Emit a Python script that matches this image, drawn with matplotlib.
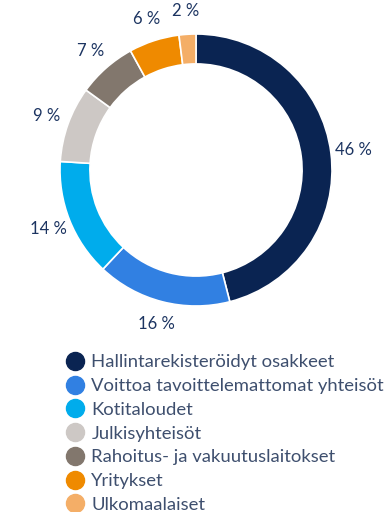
import matplotlib.pyplot as plt
from matplotlib.lines import Line2D

plt.rcParams['font.family'] = ['Lato', 'DejaVu Sans']

# ownership groups and their shares (%)
groups = ['Hallintarekisteröidyt osakkeet', 'Voittoa tavoittelemattomat yhteisöt',
          'Kotitaloudet', 'Julkisyhteisöt', 'Rahoitus- ja vakuutuslaitokset',
          'Yritykset', 'Ulkomaalaiset']
shares = [46, 16, 14, 9, 7, 6, 2]
colors = ['#0a2452', '#3180e2', '#00acec', '#cdc8c5', '#82776d', '#ef8a00', '#f4ae67']

W, H = 388, 512
fig = plt.figure(figsize=(W / 100, H / 100), dpi=100)

# donut: centre (196, 170) px, outer radius 136 px
cx, cy, r = 196, 170, 136
ax = fig.add_axes([(cx - r) / W, (H - cy - r) / H, 2 * r / W, 2 * r / H])
wedges, texts = ax.pie(shares, colors=colors, startangle=90, counterclock=False,
                       radius=1, labels=[f'{v} %' for v in shares], labeldistance=1.17,
                       wedgeprops=dict(width=0.22, edgecolor='white', linewidth=1.2),
                       textprops=dict(fontsize=12, color='#1c3461'))
for t in texts:
    t.set_horizontalalignment('center')
    t.set_verticalalignment('center')
ax.set_xlim(-1, 1)
ax.set_ylim(-1, 1)
ax.set_aspect('equal')
ax.axis('off')

# legend below the donut
handles = [Line2D([], [], marker='o', linestyle='none', markersize=13,
                  markerfacecolor=c, markeredgecolor=c) for c in colors]
leg = fig.legend(handles, groups, loc='upper left', bbox_to_anchor=(59 / W, 1 - 345 / H),
                 frameon=False, prop=dict(size=13.3), handlelength=0.75,
                 handletextpad=0.5, labelspacing=0.42, borderpad=0)
for t in leg.get_texts():
    t.set_color('#3e4f6e')

fig.savefig('out.png', dpi=100)
